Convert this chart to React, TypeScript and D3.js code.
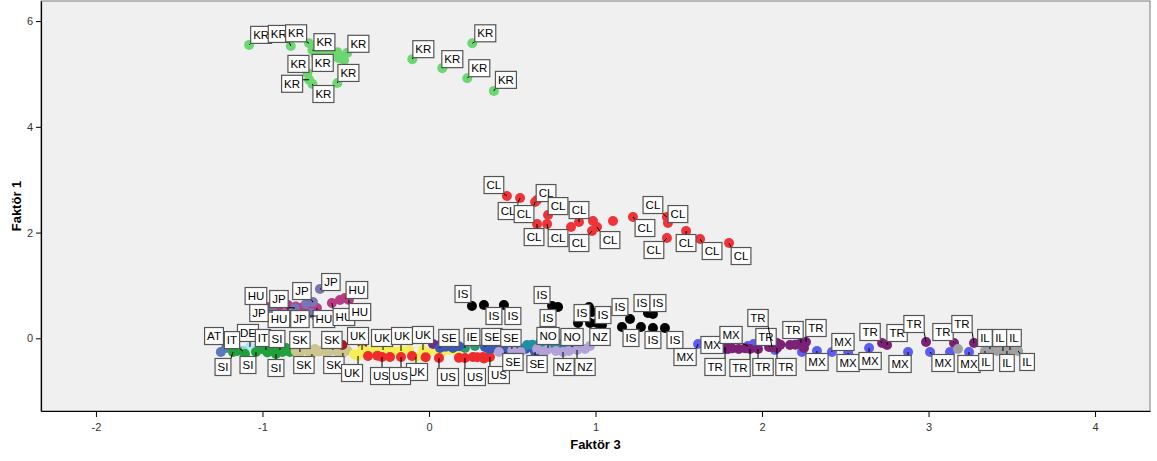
import React, { useEffect, useRef } from 'react';
import * as d3 from 'd3';

// ---------- data (Faktör 3 = x, Faktör 1 = y) ----------
const xTicks = [-2, -1, 0, 1, 2, 3, 4];
const yTicks = [0, 2, 4, 6];
const xTitle = 'Faktör 3';
const yTitle = 'Faktör 1';

const KR = [[-1.08,5.55],[-0.83,5.53],[-0.72,5.58],[-0.70,5.45],[-0.68,5.36],[-0.64,5.41],[-0.60,5.36],[-0.55,5.41],[-0.54,5.30],[-0.51,5.26],[-0.49,5.40],[-0.73,5.02],[-0.72,4.89],[-0.70,4.81],[-0.55,4.83],[-0.10,5.28],[0.08,5.11],[0.23,4.92],[0.26,5.58],[0.39,4.68],[-0.62,5.45],[-0.57,5.33],[-0.52,5.33],[-0.66,5.30]];
const CL = [[0.468,2.691],[0.547,2.653],[0.637,2.577],[0.649,2.615],[0.715,2.331],[0.649,2.161],[0.709,2.161],[0.853,2.104],[0.901,2.199],[0.985,2.218],[1.009,2.104],[0.979,2.029],[1.105,2.218],[1.225,2.294],[1.429,2.294],[1.435,2.180],[1.429,1.897],[1.544,2.029],[1.628,1.878],[1.802,1.802]];
const IS = [[0.258,0.611],[0.330,0.630],[0.450,0.630],[0.739,0.611],[0.775,0.592],[0.895,0.289],[0.979,0.497],[0.961,0.592],[0.967,0.289],[1.009,0.289],[1.039,0.251],[1.159,0.214],[1.207,0.365],[1.273,0.214],[1.315,0.478],[1.345,0.459],[1.345,0.195],[1.417,0.195],[0.94,0.40]];
const HU = [[-0.973,0.592],[-0.901,0.592],[-0.847,0.630],[-0.757,0.592],[-0.673,0.573],[-0.583,0.668],[-0.535,0.724],[-0.505,0.762],[-0.481,0.724],[-0.80,0.60],[-0.71,0.55]];
const JP = [[-0.655,0.932],[-0.697,0.686],[-0.739,0.649],[-0.805,0.573],[-0.679,0.421],[-0.937,0.497],[-0.709,0.478],[-0.865,0.459]];
const AT = [[-1.219,-0.184],[-1.25,-0.26]];
const DE = [[-1.075,-0.164],[-1.15,-0.20],[-1.03,-0.18]];
const IT = [[-1.117,-0.242],[-0.979,-0.221]];
const SI = [[-1.177,-0.259],[-1.105,-0.297],[-1.039,-0.259],[-1.003,-0.202],[-0.949,-0.240],[-0.919,-0.297],[-0.895,-0.221],[-0.859,-0.183],[-0.835,-0.259],[-1.15,-0.24],[-0.97,-0.27],[-0.88,-0.26]];
const SK = [[-0.775,-0.259],[-0.703,-0.297],[-0.685,-0.202],[-0.643,-0.240],[-0.577,-0.221],[-0.517,-0.278],[-0.61,-0.28],[-0.75,-0.21],[-0.80,-0.24],[-0.72,-0.25],[-0.66,-0.25],[-0.62,-0.22],[-0.55,-0.25],[-0.49,-0.23]];
const OTHER_RED = [[-0.52,-0.127],[-0.40,-0.108]];
const UK = [[-0.426,-0.335],[-0.402,-0.221],[-0.330,-0.221],[-0.276,-0.221],[-0.168,-0.240],[-0.078,-0.353],[-0.036,-0.221],[0.048,-0.221],[0.126,-0.221],[0.168,-0.259],[-0.006,-0.278],[-0.12,-0.22],[-0.45,-0.30],[-0.36,-0.25],[-0.24,-0.20],[-0.20,-0.25],[0.08,-0.26],[0.10,-0.20]];
const US = [[-0.366,-0.335],[-0.282,-0.354],[-0.234,-0.354],[-0.168,-0.354],[-0.102,-0.335],[0.060,-0.373],[0.216,-0.373],[0.264,-0.354],[0.324,-0.354],[0.366,-0.354],[-0.02,-0.36],[-0.31,-0.33],[0.18,-0.37],[0.29,-0.36],[0.33,-0.38]];
const OTHER_PURPLE = [[0.024,-0.108],[0.066,-0.127]];
const IE = [[0.216,-0.183],[0.276,-0.145]];
const SE = [[0.066,-0.183],[0.144,-0.183],[0.336,-0.164],[0.384,-0.183],[0.444,-0.183],[0.498,-0.202],[0.456,-0.259],[0.547,-0.202],[0.625,-0.183],[0.637,-0.259],[0.10,-0.16],[0.18,-0.15],[0.36,-0.20],[0.41,-0.16],[0.52,-0.17],[0.58,-0.20]];
const NO = [[0.589,-0.127],[0.667,-0.089],[0.715,-0.183],[0.787,-0.108],[0.859,-0.164],[0.895,-0.145],[0.62,-0.12],[0.74,-0.10],[0.82,-0.14]];
const NZ = [[0.649,-0.202],[0.709,-0.221],[0.763,-0.240],[0.805,-0.259],[0.889,-0.221],[0.937,-0.202],[0.967,-0.145],[0.42,-0.26],[0.50,-0.23],[0.55,-0.26],[0.69,-0.25],[0.84,-0.24]];
const MX = [[1.616,-0.108],[1.778,-0.202],[1.916,-0.145],[2.078,-0.221],[2.240,-0.259],[2.330,-0.240],[2.420,-0.259],[2.517,-0.278],[2.643,-0.183],[2.877,-0.259],[3.009,-0.259],[3.129,-0.259],[3.243,-0.259],[3.339,-0.259],[1.95,-0.11]];
const TR = [[1.778,-0.164],[1.796,-0.202],[1.928,-0.202],[1.976,-0.202],[2.042,-0.164],[2.060,-0.164],[2.090,-0.089],[2.090,-0.183],[2.234,-0.089],[2.264,-0.070],[2.252,-0.183],[2.721,-0.089],[2.751,-0.127],[2.985,-0.070],[3.153,-0.089],[3.273,-0.089],[2.168,-0.127],[1.82,-0.19],[1.86,-0.20],[1.90,-0.19],[2.11,-0.12],[2.20,-0.12]];
const IL = [[3.177,-0.202],[3.339,-0.240],[3.369,-0.202],[3.411,-0.240],[3.447,-0.240],[3.471,-0.240],[3.489,-0.221],[3.538,-0.240]];

// ---------- label placement (pixel offsets of label centre from its point) ----------
const KR_LAB = [[12,-10],[-12,-12],[-13,-10],[12,-8],[7,8],null,null,null,null,null,[11,-9],[-9,-9],[-17,4],[11,10],[11,-10],[11,-10],[10,-9],[12,-10],[13,-10],[12,-11]];
const CL_LAB = [[-13,-11],[-12,13],[-11,12],[9,-7],[10,-9],[-3,13],[11,14],null,[0,-12],null,[13,13],[-13,12],null,[12,11],[-14,-12],[10,-9],[-13,12],[0,12],[12,12],[12,13]];
const IS_LAB = [[-9,-12],[10,11],[9,11],[-10,-11],[-10,11],[4,-10],[11,3],null,null,null,null,[9,11],[-10,-12],null,[-6,-10],[5,-11],[0,12],[10,12]];
const HU_LAB = [[-11,-11],null,[-9,14],null,[7,11],[12,14],null,[12,-8],[11,12]];
const JP_LAB = [[11,-7],[-11,-11],null,[-16,-9],[-16,3],[-14,1],null,null];
const AT_LAB = [[-12,-12],null];
const DE_LAB = [[-2,-14],null,null];
const IT_LAB = [[-11,-11],[-3,-12]];
const SI_LAB = [[-10,15],null,[-8,13],null,null,[0,14],[-3,-11],null,null];
const SK_LAB = [[0,-12],[-8,11],null,null,[-1,-10],[-9,12],null,null];
const UK_LAB = [[-6,17],[-4,-14],null,[-1,-12],[1,-15],[1,15],[0,-15],null,null,null,null,null];
const US_LAB = [null,[-1,19],null,[-1,19],null,[9,19],[10,19],null,null,[9,18],null];
const IE_LAB = [[7,-11],null];
const SE_LAB = [[9,-10],null,[7,-10],null,null,[-1,-11],[8,10],null,null,[2,12]];
const NO_LAB = [null,null,[0,-12],null,[0,-10],null];
const NZ_LAB = [null,null,null,[1,15],[8,17],null,[10,-9],null];
const MX_LAB = [[-13,13],[-13,-4],[-17,-11],null,null,[0,11],[11,-10],[0,10],[1,13],[-8,12],[13,11],null,[0,12],null,null];
const TR_LAB = [[-10,20],null,[-10,19],[5,18],[-3,-10],[-14,-29],null,[9,19],[-8,-13],[10,-14],null,[-12,-11],[10,-12],[-12,-18],[-11,-11],[-12,-19],null];
const IL_LAB = [null,[1,11],[-5,-11],null,[-3,-13],[0,12],[4,-12],[9,11]];

const series = [
  { name: 'KR', color: '#6cd670', pts: KR, lab: KR_LAB },
  { name: 'CL', color: '#ee3339', pts: CL, lab: CL_LAB },
  { name: 'IS', color: '#000000', pts: IS, lab: IS_LAB },
  { name: 'HU', color: '#b83c84', pts: HU, lab: HU_LAB },
  { name: 'JP', color: '#7a74b4', pts: JP, lab: JP_LAB },
  { name: 'AT', color: '#5b78b8', pts: AT, lab: AT_LAB },
  { name: 'DE', color: '#b8e6ee', pts: DE, lab: DE_LAB },
  { name: 'IT', color: '#84d7e0', pts: IT, lab: IT_LAB },
  { name: 'SI', color: '#21a03c', pts: SI, lab: SI_LAB },
  { name: 'SK', color: '#cdc58f', pts: SK, lab: SK_LAB },
  { name: '', color: '#a51b1b', pts: OTHER_RED, lab: [] },
  { name: 'UK', color: '#f5ef55', pts: UK, lab: UK_LAB },
  { name: 'US', color: '#ef2b2b', pts: US, lab: US_LAB },
  { name: '', color: '#6a2c8e', pts: OTHER_PURPLE, lab: [] },
  { name: 'IE', color: '#2a9a6a', pts: IE, lab: IE_LAB },
  { name: 'SE', color: '#3b58b4', pts: SE, lab: SE_LAB },
  { name: 'NO', color: '#1f8fa6', pts: NO, lab: NO_LAB },
  { name: 'NZ', color: '#b3a2d8', pts: NZ, lab: NZ_LAB },
  { name: 'MX', color: '#5d5df2', pts: MX, lab: MX_LAB },
  { name: 'TR', color: '#7b2277', pts: TR, lab: TR_LAB },
  { name: 'IL', color: '#a0a0a0', pts: IL, lab: IL_LAB },
];

const W = 1157, H = 461;
const PL = 41, PR = 1150, PT = 1, PB = 411;
const FONT = "'Liberation Sans', Arial, sans-serif";

export default function App() {
  const ref = useRef<SVGSVGElement>(null);
  useEffect(() => {
    const svg = d3.select(ref.current);
    svg.selectAll('*').remove();
    const x = d3.scaleLinear().domain([-2.33, 4.33]).range([PL, PR]);
    const y = d3.scaleLinear().domain([-1.375, 6.38]).range([PB, PT]);

    svg.append('rect').attr('x', PL).attr('y', PT).attr('width', PR - PL).attr('height', PB - PT)
      .attr('fill', '#f0f0f0').attr('stroke', '#7a7a7a').attr('stroke-width', 1);

    const pg = svg.append('g');
    series.forEach(s => {
      pg.selectAll(null).data(s.pts).enter().append('circle')
        .attr('cx', d => x(d[0])).attr('cy', d => y(d[1])).attr('r', 5)
        .attr('fill', s.color);
    });

    const lg = svg.append('g');
    series.forEach(s => {
      s.pts.forEach((p, i) => {
        const off = s.lab[i];
        if (!off || !s.name) return;
        const px = x(p[0]), py = y(p[1]);
        const cx = px + off[0], cy = py + off[1];
        const g = lg.append('g');
        const line = g.append('line');
        const rect = g.append('rect');
        const t = g.append('text').attr('x', cx).attr('y', cy + 4)
          .attr('text-anchor', 'middle').attr('font-family', FONT).attr('font-size', 11.5)
          .attr('fill', '#000').text(s.name);
        const tw = (t.node() as SVGTextElement).getComputedTextLength();
        const bw = tw + 5, bh = 17;
        const x0 = cx - bw / 2, y0 = cy - bh / 2;
        rect.attr('x', x0).attr('y', y0).attr('width', bw).attr('height', bh)
          .attr('fill', '#fff').attr('stroke', '#555').attr('stroke-width', 1.2);
        const qx = Math.max(x0, Math.min(px, x0 + bw));
        const qy = Math.max(y0, Math.min(py, y0 + bh));
        line.attr('x1', px).attr('y1', py).attr('x2', qx).attr('y2', qy)
          .attr('stroke', '#000').attr('stroke-width', 1);
      });
    });

    const xa = svg.append('g').attr('transform', `translate(0,${PB})`)
      .call(d3.axisBottom(x).tickValues(xTicks).tickSize(6).tickSizeOuter(0).tickFormat(d => String(d)));
    const ya = svg.append('g').attr('transform', `translate(${PL},0)`)
      .call(d3.axisLeft(y).tickValues(yTicks).tickSize(5).tickSizeOuter(0).tickFormat(d => String(d)));
    [xa, ya].forEach(a => {
      a.select('.domain').attr('stroke', '#000').attr('stroke-width', 1.2);
      a.selectAll('.tick line').attr('stroke', '#000');
      a.selectAll('.tick text').attr('font-family', FONT).attr('font-size', 11).attr('fill', '#333');
    });
    xa.selectAll('.tick text').attr('dy', '1.0em');

    svg.append('text').attr('x', (PL + PR) / 2).attr('y', 449).attr('text-anchor', 'middle')
      .attr('font-family', FONT).attr('font-size', 13).attr('font-weight', 'bold').text(xTitle);
    svg.append('text').attr('transform', `translate(21,${(PT + PB) / 2}) rotate(-90)`)
      .attr('text-anchor', 'middle').attr('font-family', FONT).attr('font-size', 13)
      .attr('font-weight', 'bold').text(yTitle);
  }, []);
  return <svg ref={ref} width={W} height={H} style={{ position: 'absolute', left: 0, top: 0, background: '#fff' }} />;
}
